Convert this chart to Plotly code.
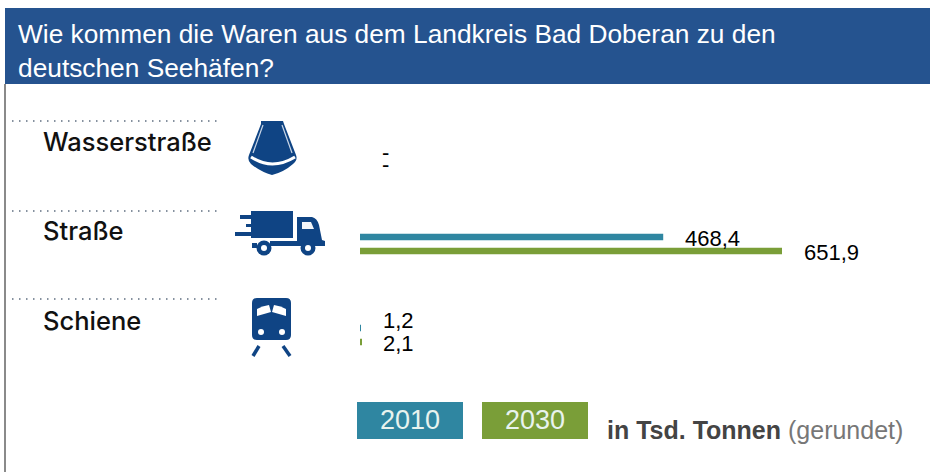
import plotly.graph_objects as go

categories = ["Wasserstraße", "Straße", "Schiene"]
series_names = ["2010", "2030"]
values_2010 = [0, 468.4, 1.2]
values_2030 = [0, 651.9, 2.1]
title_text = "Wie kommen die Waren aus dem Landkreis Bad Doberan zu den<br>deutschen Seehäfen?"
unit_bold = "in Tsd. Tonnen"
unit_light = " (gerundet)"

BLUE = "#2F86A1"
GREEN = "#7A9E38"
NAVY = "#0F4484"
HEADER = "#25538F"
W, H = 930, 472


def label(v):
    return "-" if v == 0 else f"{v:.1f}".replace(".", ",")


fig = go.Figure()
fig.add_bar(y=categories, x=values_2010, name=series_names[0], orientation="h",
            marker=dict(color=BLUE, line_width=0))
fig.add_bar(y=categories, x=values_2030, name=series_names[1], orientation="h",
            marker=dict(color=GREEN, line_width=0))
# invisible pixel-space overlay for the decoration
fig.add_scatter(x=[0], y=[0], xaxis="x2", yaxis="y2", mode="markers",
                marker_opacity=0, showlegend=False, hoverinfo="skip")

shapes = []


def rect(x0, y0, x1, y1, color, layer="above"):
    shapes.append(dict(type="rect", xref="x2", yref="y2", x0=x0, y0=y0, x1=x1, y1=y1,
                       fillcolor=color, line_width=0, layer=layer))


def path(d, fill=NAVY, line=None, width=0):
    shapes.append(dict(type="path", xref="x2", yref="y2", path=d,
                       fillcolor=fill if fill else "rgba(0,0,0,0)",
                       line=dict(color=line or "rgba(0,0,0,0)", width=width), layer="above"))


def circle(cx, cy, r, color):
    shapes.append(dict(type="circle", xref="x2", yref="y2", x0=cx - r, y0=cy - r, x1=cx + r, y1=cy + r,
                       fillcolor=color, line_width=0, layer="above"))


# header and frame
rect(5, 8, W, 84, HEADER, "below")
rect(4, 84, 6, H, "#8A8A8A", "below")
# dotted separators
for yy in (121, 211, 299):
    shapes.append(dict(type="line", xref="x2", yref="y2", x0=12, x1=217, y0=yy, y1=yy,
                       line=dict(color="#5F6E80", width=1.5, dash="1.5px 5.5px"), layer="below"))

# ship
path("M 261,124 L 261,121 L 283,121 L 284,124 L 296,155 Q 298,160 293,164 Q 284,172 272,175 "
     "Q 261,172 251,164 Q 247,160 249,155 Z")
path("M 251,157 Q 272,171 295,157", fill=None, line="white", width=3)
path("M 263,125 L 253,153", fill=None, line="#C9D6E6", width=1.2)
path("M 282,125 L 292,153", fill=None, line="#C9D6E6", width=1.2)

# truck
rect(251, 211, 293, 238, NAVY)
rect(240, 215, 251, 219, NAVY)
rect(246, 224, 251, 227, NAVY)
rect(235, 232, 251, 236, NAVY)
path("M 297,217 L 312,217 Q 317,218 319,225 L 322,240 L 325,241 L 325,246 L 270,246 L 270,241 L 297,241 Z")
path("M 302,222 L 311,222 L 314,229 L 302,229 Z", fill="#F2F5F9")
rect(252, 243, 257, 248, NAVY)
for cx in (264, 308):
    circle(cx, 248, 7.5, NAVY)
    circle(cx, 248, 3, "white")

# train
path("M 257,298 L 286,298 Q 291,298 291,303 L 291,335 Q 291,340 286,340 L 257,340 "
     "Q 252,340 252,335 L 252,303 Q 252,298 257,298 Z")
path("M 257,309 Q 262,306 269,305 L 271,312 L 257,316 Z", fill="white")
path("M 286,309 Q 281,306 274,305 L 272,312 L 286,316 Z", fill="white")
circle(261, 332, 3, "white")
circle(282, 332, 3, "white")
path("M 259,346 L 253,356", fill=None, line=NAVY, width=3.5)
path("M 283,346 L 290,356", fill=None, line=NAVY, width=3.5)

# legend chips
rect(357, 402, 463, 439, BLUE)
rect(482, 402, 588, 439, GREEN)

annotations = []
NUM_FONT = dict(family="Liberation Sans", size=22, color="#000000")
y_off_2010 = [-1, -6, -15]
y_off_2030 = [11, 8, 8]
for vals, offs in ((values_2010, y_off_2010), (values_2030, y_off_2030)):
    for cat, v, o in zip(categories, vals, offs):
        annotations.append(dict(xref="x", yref="y", x=v, y=cat, text=label(v), showarrow=False,
                                xanchor="left", yanchor="middle", xshift=20, yshift=-o, font=NUM_FONT))

for cat, yy in zip(categories, (141, 230, 320)):
    annotations.append(dict(xref="x2", yref="y2", x=41, y=yy, text=cat, showarrow=False, xanchor="left",
                            yanchor="middle", font=dict(family="Inter", size=25.5, color="#111111", weight=500)))
for name, cx in zip(series_names, (410, 535)):
    annotations.append(dict(xref="x2", yref="y2", x=cx, y=420, text=name, showarrow=False,
                            font=dict(family="Liberation Sans", size=27, color="#E8F3EE")))
annotations.append(dict(xref="x2", yref="y2", x=605, y=430, showarrow=False, xanchor="left", yanchor="middle",
                        text=f"<b>{unit_bold}</b><span style='color:#777777'>{unit_light}</span>",
                        font=dict(family="Liberation Sans", size=25, color="#444444")))

px_per_unit = (782 - 360) / 651.9
fig.update_layout(
    width=W, height=H, margin=dict(l=0, r=0, t=0, b=0), showlegend=False,
    paper_bgcolor="white", plot_bgcolor="rgba(0,0,0,0)",
    barmode="group", bargap=1 - 28 / 91, bargroupgap=1 - 6.5 / 14,
    title=dict(text=title_text, x=18 / W, xanchor="left", xref="paper", y=1 - 43 / H, yanchor="top",
               font=dict(family="Liberation Sans", size=26.3, color="white")),
    xaxis=dict(domain=[360 / W, 1], range=[0, (W - 360) / px_per_unit], visible=False, fixedrange=True),
    yaxis=dict(domain=[1 - 380.5 / H, 1 - 107.5 / H], categoryorder="array", categoryarray=categories,
               autorange=False, range=[2.5, -0.5], visible=False, fixedrange=True),
    xaxis2=dict(domain=[0, 1], range=[0, W], visible=False, fixedrange=True, anchor="y2"),
    yaxis2=dict(domain=[0, 1], range=[H, 0], visible=False, fixedrange=True, anchor="x2"),
    shapes=shapes, annotations=annotations,
)
fig.write_html("out.html", post_script="document.body.style.margin='0';", config={"displayModeBar": False})
